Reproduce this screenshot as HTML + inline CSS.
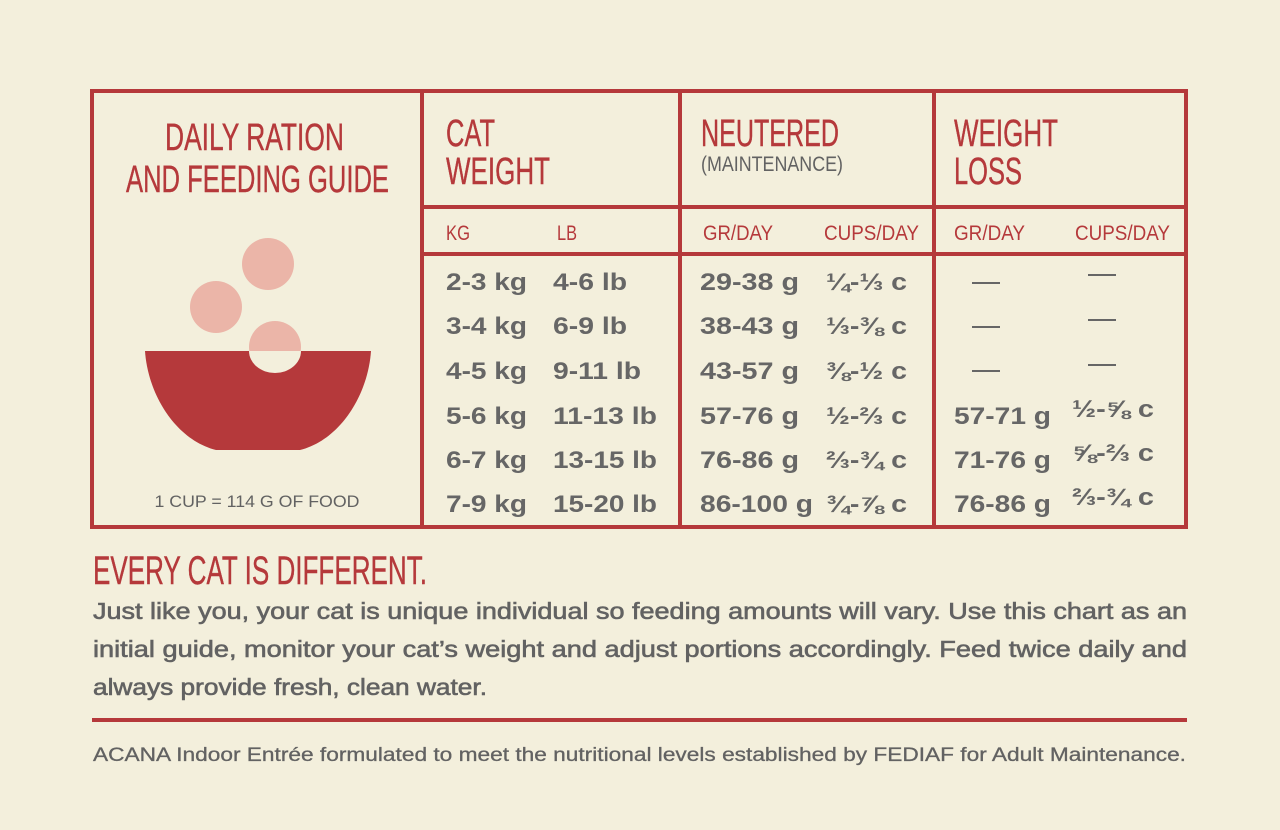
<!DOCTYPE html>
<html><head><meta charset="utf-8"><style>
html,body{margin:0;padding:0;background:#f3efdc;}
svg{display:block}
.h{font-family:"Liberation Sans",sans-serif;fill:#b5393b;}
.d{font-family:"Liberation Sans",sans-serif;fill:#666;font-weight:bold;font-size:24px;}
.p{font-family:"Liberation Sans",sans-serif;fill:#626262;}
</style></head><body>
<svg width="1280" height="830" viewBox="0 0 1280 830" xmlns="http://www.w3.org/2000/svg">
<rect width="1280" height="830" fill="#f3efdc"/>
<g stroke="#b5393b" stroke-width="4" fill="none">
<rect x="92" y="91" width="1094" height="436"/>
<line x1="422" y1="91" x2="422" y2="527"/>
<line x1="680" y1="91" x2="680" y2="527"/>
<line x1="934" y1="91" x2="934" y2="527"/>
<line x1="422" y1="207" x2="1186" y2="207"/>
<line x1="422" y1="254" x2="1186" y2="254"/>
<line x1="92" y1="720" x2="1187" y2="720"/>
</g>
<g class="h" font-size="38" stroke="#b5393b" stroke-width="0.4">
<text x="165" y="150" textLength="179" lengthAdjust="spacingAndGlyphs">DAILY RATION</text>
<text x="126" y="192" textLength="263" lengthAdjust="spacingAndGlyphs">AND FEEDING GUIDE</text>
<text x="446" y="146" textLength="49" lengthAdjust="spacingAndGlyphs">CAT</text>
<text x="446" y="184" textLength="104" lengthAdjust="spacingAndGlyphs">WEIGHT</text>
<text x="701" y="146" textLength="138" lengthAdjust="spacingAndGlyphs">NEUTERED</text>
<text x="954" y="146" textLength="104" lengthAdjust="spacingAndGlyphs">WEIGHT</text>
<text x="954" y="184" textLength="68" lengthAdjust="spacingAndGlyphs">LOSS</text>
</g>
<text class="p" x="701" y="171" font-size="21" textLength="142" lengthAdjust="spacingAndGlyphs">(MAINTENANCE)</text>
<g class="h" font-size="21">
<text x="446" y="240" textLength="24" lengthAdjust="spacingAndGlyphs">KG</text>
<text x="557" y="240" textLength="20" lengthAdjust="spacingAndGlyphs">LB</text>
<text x="703" y="240" textLength="70" lengthAdjust="spacingAndGlyphs">GR/DAY</text>
<text x="824" y="240" textLength="95" lengthAdjust="spacingAndGlyphs">CUPS/DAY</text>
<text x="954" y="240" textLength="71" lengthAdjust="spacingAndGlyphs">GR/DAY</text>
<text x="1075" y="240" textLength="95" lengthAdjust="spacingAndGlyphs">CUPS/DAY</text>
</g>
<circle cx="268" cy="264" r="26" fill="#ebb5a8"/>
<circle cx="216" cy="307" r="26" fill="#ebb5a8"/>
<circle cx="275" cy="347" r="26" fill="#ebb5a8"/>
<path d="M145 351 L371 351 C368 395 340 440 300 450 L216 450 C176 440 148 395 145 351 Z" fill="#b5393b"/>
<path d="M249 351 A26 22 0 0 0 301 351 Z" fill="#f3efdc"/>
<text class="p" x="257" y="507" font-size="17" text-anchor="middle" textLength="205" lengthAdjust="spacingAndGlyphs">1 CUP = 114 G OF FOOD</text>
<g class="d">
<text x="446" y="290" textLength="81" lengthAdjust="spacingAndGlyphs">2-3 kg</text>
<text x="446" y="334" textLength="81" lengthAdjust="spacingAndGlyphs">3-4 kg</text>
<text x="446" y="379" textLength="81" lengthAdjust="spacingAndGlyphs">4-5 kg</text>
<text x="446" y="424" textLength="81" lengthAdjust="spacingAndGlyphs">5-6 kg</text>
<text x="446" y="468" textLength="81" lengthAdjust="spacingAndGlyphs">6-7 kg</text>
<text x="446" y="512" textLength="81" lengthAdjust="spacingAndGlyphs">7-9 kg</text>
<text x="553" y="290" textLength="74" lengthAdjust="spacingAndGlyphs">4-6 lb</text>
<text x="553" y="334" textLength="74" lengthAdjust="spacingAndGlyphs">6-9 lb</text>
<text x="553" y="379" textLength="88" lengthAdjust="spacingAndGlyphs">9-11 lb</text>
<text x="553" y="424" textLength="104" lengthAdjust="spacingAndGlyphs">11-13 lb</text>
<text x="553" y="468" textLength="104" lengthAdjust="spacingAndGlyphs">13-15 lb</text>
<text x="553" y="512" textLength="104" lengthAdjust="spacingAndGlyphs">15-20 lb</text>
<text x="700" y="290" textLength="99" lengthAdjust="spacingAndGlyphs">29-38 g</text>
<text x="700" y="334" textLength="99" lengthAdjust="spacingAndGlyphs">38-43 g</text>
<text x="700" y="379" textLength="99" lengthAdjust="spacingAndGlyphs">43-57 g</text>
<text x="700" y="424" textLength="99" lengthAdjust="spacingAndGlyphs">57-76 g</text>
<text x="700" y="468" textLength="99" lengthAdjust="spacingAndGlyphs">76-86 g</text>
<text x="700" y="512" textLength="113" lengthAdjust="spacingAndGlyphs">86-100 g</text>
<text x="826" y="290" textLength="81" lengthAdjust="spacingAndGlyphs">¼-⅓ c</text>
<text x="826" y="334" textLength="81" lengthAdjust="spacingAndGlyphs">⅓-⅜ c</text>
<text x="826" y="379" textLength="81" lengthAdjust="spacingAndGlyphs">⅜-½ c</text>
<text x="826" y="424" textLength="81" lengthAdjust="spacingAndGlyphs">½-⅔ c</text>
<text x="826" y="468" textLength="81" lengthAdjust="spacingAndGlyphs">⅔-¾ c</text>
<text x="826" y="512" textLength="81" lengthAdjust="spacingAndGlyphs">¾-⅞ c</text>
<text x="954" y="424" textLength="97" lengthAdjust="spacingAndGlyphs">57-71 g</text>
<text x="954" y="468" textLength="97" lengthAdjust="spacingAndGlyphs">71-76 g</text>
<text x="954" y="512" textLength="97" lengthAdjust="spacingAndGlyphs">76-86 g</text>
<text x="1072" y="417" textLength="82" lengthAdjust="spacingAndGlyphs">½-⅝ c</text>
<text x="1072" y="461" textLength="82" lengthAdjust="spacingAndGlyphs">⅝-⅔ c</text>
<text x="1072" y="505" textLength="82" lengthAdjust="spacingAndGlyphs">⅔-¾ c</text>
</g>
<g stroke="#666" stroke-width="2">
<line x1="972" y1="283" x2="1000" y2="283"/>
<line x1="972" y1="327" x2="1000" y2="327"/>
<line x1="972" y1="371" x2="1000" y2="371"/>
<line x1="1088" y1="275" x2="1116" y2="275"/>
<line x1="1088" y1="320" x2="1116" y2="320"/>
<line x1="1088" y1="365" x2="1116" y2="365"/>
</g>
<text class="h" x="93" y="584" font-size="40" stroke="#b5393b" stroke-width="0.4" textLength="334" lengthAdjust="spacingAndGlyphs">EVERY CAT IS DIFFERENT.</text>
<g class="p" font-size="23" stroke="#626262" stroke-width="0.6">
<text x="93" y="619" textLength="1094" lengthAdjust="spacingAndGlyphs">Just like you, your cat is unique individual so feeding amounts will vary. Use this chart as an</text>
<text x="93" y="657" textLength="1094" lengthAdjust="spacingAndGlyphs">initial guide, monitor your cat’s weight and adjust portions accordingly. Feed twice daily and</text>
<text x="93" y="695" textLength="394" lengthAdjust="spacingAndGlyphs">always provide fresh, clean water.</text>
</g>
<text class="p" x="93" y="761" font-size="19" stroke="#626262" stroke-width="0.3" textLength="1093" lengthAdjust="spacingAndGlyphs">ACANA Indoor Entrée formulated to meet the nutritional levels established by FEDIAF  for Adult Maintenance.</text>
</svg>
</body></html>
